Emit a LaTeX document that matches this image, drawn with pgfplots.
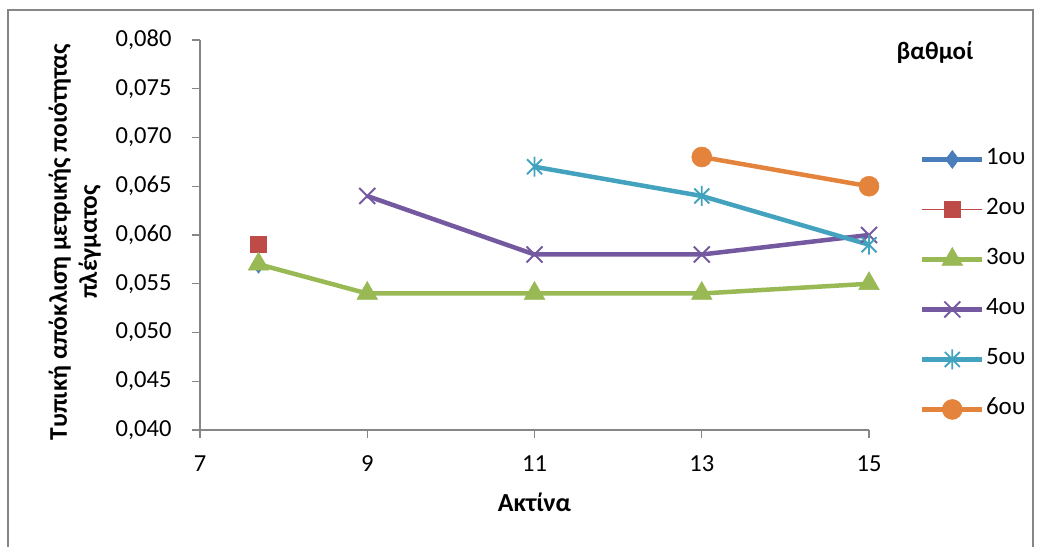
\documentclass[border=0pt]{standalone}
\usepackage{pgfplots}
\pgfplotsset{compat=1.18}
\usepackage{fontspec}
\setmainfont{Carlito}
\definecolor{cA}{HTML}{4A7EBB}
\definecolor{cB}{HTML}{BE4B48}
\definecolor{cC}{HTML}{98B954}
\definecolor{cD}{HTML}{7459A0}
\definecolor{cE}{HTML}{43A3BE}
\definecolor{cF}{HTML}{E4833C}
\definecolor{axgray}{HTML}{868686}
\pgfdeclareplotmark{xstar}{%
  \pgfpathmoveto{\pgfqpoint{-0.75\pgfplotmarksize}{-0.75\pgfplotmarksize}}%
  \pgfpathlineto{\pgfqpoint{0.75\pgfplotmarksize}{0.75\pgfplotmarksize}}%
  \pgfpathmoveto{\pgfqpoint{-0.75\pgfplotmarksize}{0.75\pgfplotmarksize}}%
  \pgfpathlineto{\pgfqpoint{0.75\pgfplotmarksize}{-0.75\pgfplotmarksize}}%
  \pgfpathmoveto{\pgfqpoint{0pt}{-\pgfplotmarksize}}%
  \pgfpathlineto{\pgfqpoint{0pt}{\pgfplotmarksize}}%
  \pgfusepathqstroke}
\pgfdeclareplotmark{bigx}{%
  \pgfpathmoveto{\pgfqpoint{-\pgfplotmarksize}{-\pgfplotmarksize}}%
  \pgfpathlineto{\pgfqpoint{\pgfplotmarksize}{\pgfplotmarksize}}%
  \pgfpathmoveto{\pgfqpoint{-\pgfplotmarksize}{\pgfplotmarksize}}%
  \pgfpathlineto{\pgfqpoint{\pgfplotmarksize}{-\pgfplotmarksize}}%
  \pgfusepathqstroke}
\begin{document}
\begin{tikzpicture}
\useasboundingbox (-200bp,-117bp) rectangle (839bp,430bp);
\begin{axis}[
  scale only axis, width=669bp, height=390bp,
  xmin=7, xmax=15, ymin=0.04, ymax=0.08,
  xtick={7,9,11,13,15},
  ytick={0.04,0.045,0.05,0.055,0.06,0.065,0.07,0.075,0.08},
  axis x line=bottom, axis y line=left,
  axis line style={draw=axgray, line width=1.2bp, -},
  tick style={draw=axgray, line width=1.2bp},
  tick align=outside, major tick length=8bp,
  scaled y ticks=false,
  /pgf/number format/assume math mode=true,
  yticklabel style={/pgf/number format/.cd, use comma, fixed, fixed zerofill, precision=3, /tikz/.cd, xshift=-17bp},
  tick label style={font=\fontsize{24.5bp}{29bp}\selectfont},
  xticklabel style={yshift=-14bp},
  xlabel={\textbf{Ακτίνα}},
  ylabel={\textbf{Τυπική απόκλιση μετρικής ποιότητας}\\\textbf{πλέγματος}},
  every axis x label/.style={at={(axis description cs:0.5,-0.185)}, anchor=center, font=\fontsize{26bp}{31bp}\selectfont},
  every axis y label/.style={at={(axis description cs:-0.187,0.482)}, rotate=90, anchor=center, align=center, font=\fontsize{25.5bp}{30bp}\selectfont},
  clip=false,
  legend cell align=left,
  legend style={at={(1.076,0.725)}, anchor=north west, draw=none, fill=none,
    font=\fontsize{25bp}{29bp}\selectfont, inner sep=0pt, row sep=26bp,
    nodes={inner sep=1.5bp, text height=16bp, text depth=5bp}},
  legend image code/.code={\draw[mark repeat=2,mark phase=2] plot coordinates {(0bp,0bp) (30bp,0bp) (60bp,0bp)};},
]
\addplot[cA, line width=4.5bp, mark=diamond*, mark size=9bp, mark options={fill=cA, draw=cA, line width=0.5bp}] coordinates {(7.7,0.057)};
\addlegendentry{1ου}
\addplot[cB, line width=1.5bp, mark=square*, mark size=8bp, mark options={fill=cB, draw=cB, line width=0.5bp}] coordinates {(7.7,0.059)};
\addlegendentry{2ου}
\addplot[cC, line width=4.5bp, mark=triangle*, mark size=12bp, mark options={fill=cC, draw=cC, line width=0.5bp}] coordinates {(7.7,0.057) (9,0.054) (11,0.054) (13,0.054) (15,0.055)};
\addlegendentry{3ου}
\addplot[cD, line width=4.5bp, mark=bigx, mark size=8bp, mark options={draw=cD, line width=1.8bp}] coordinates {(9,0.064) (11,0.058) (13,0.058) (15,0.060)};
\addlegendentry{4ου}
\addplot[cE, line width=4.5bp, mark=xstar, mark size=10bp, mark options={draw=cE, line width=1.8bp}] coordinates {(11,0.067) (13,0.064) (15,0.059)};
\addlegendentry{5ου}
\addplot[cF, line width=4.5bp, mark=*, mark size=10bp, mark options={fill=cF, draw=cF, line width=0.5bp}] coordinates {(13,0.068) (15,0.065)};
\addlegendentry{6ου}
\end{axis}
\node[font=\bfseries\fontsize{25bp}{29bp}\selectfont] at (735bp,377bp) {βαθμοί};
\draw[axgray, line width=1.5bp] (-192bp,-140bp) -- (-192bp,420bp) -- (833bp,420bp) -- (833bp,-140bp);
\end{tikzpicture}
\end{document}
